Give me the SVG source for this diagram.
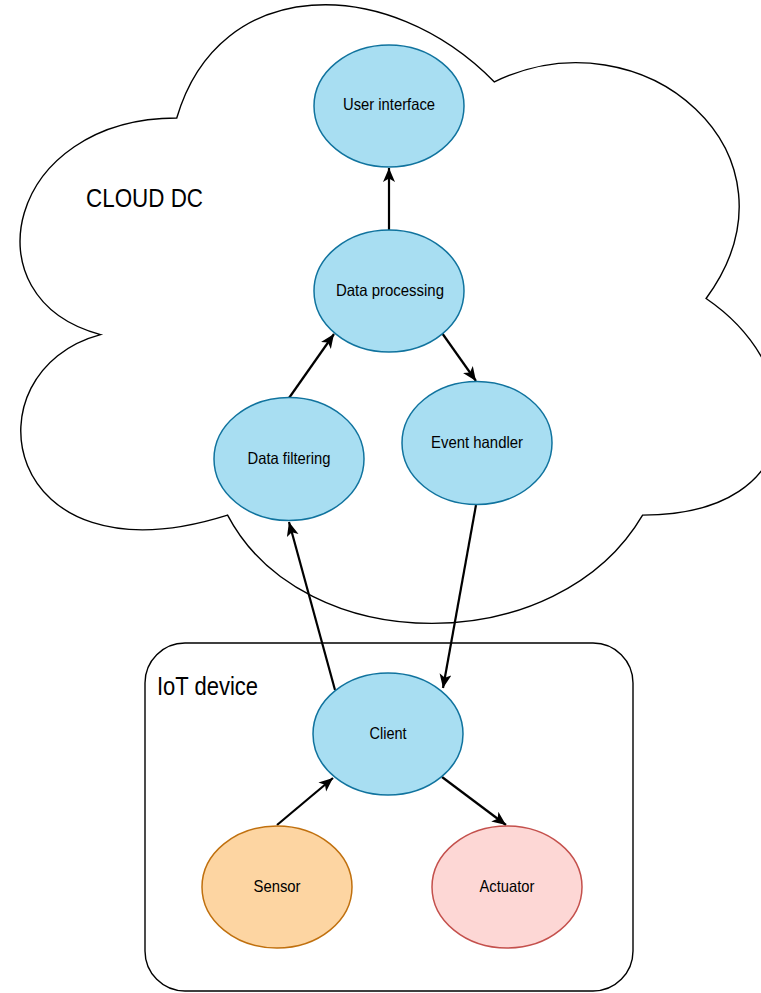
<svg xmlns="http://www.w3.org/2000/svg" width="761" height="993" viewBox="0 0 761 993">
<style>
.cloud{fill:#ffffff;stroke:#000000;stroke-width:1.4}
.box{fill:#ffffff;stroke:#000000;stroke-width:1.4}
.blue{fill:#a8def2;stroke:#10739e;stroke-width:1.5}
.orange{fill:#fdd5a2;stroke:#c0700e;stroke-width:1.5}
.red{fill:#fdd7d5;stroke:#c4504c;stroke-width:1.5}
.lbl{font-family:"Liberation Sans",Arial,Helvetica,sans-serif;font-size:16.5px;fill:#000000;text-anchor:middle;dominant-baseline:central}
.big{font-family:"Liberation Sans",Arial,Helvetica,sans-serif;font-size:26px;fill:#000000}
.edge{fill:none;stroke:#000000;stroke-width:2.2}
</style>
<defs>
<marker id="arr" markerUnits="userSpaceOnUse" markerWidth="16" markerHeight="14" refX="14" refY="6" orient="auto" viewBox="0 0 16 14">
<path d="M0,0 L14,6 L0,12 L3.5,6 Z" fill="#000000"/>
</marker>
</defs>
<g id="cloud-dc">
<path class="cloud" d="M176.75,118 C7.35,118 -35,298.5 100.52,334.6 C-35,370.7 -1.12,587.3 227.57,515.1 C303.8,659.5 557.9,659.5 642.6,515.1 C812,515.1 812,370.7 706.1,298.5 C812,154.1 642.6,9.7 494.4,81.9 C388.5,-26.4 219.1,-26.4 176.75,118 Z"/>
<text class="big" x="86" y="207" textLength="117" lengthAdjust="spacingAndGlyphs">CLOUD DC</text>
</g>
<g id="iot-device">
<rect class="box" x="145" y="643" width="488" height="348" rx="40" ry="40"/>
<text class="big" x="157" y="695" textLength="101" lengthAdjust="spacingAndGlyphs">IoT device</text>
</g>
<g id="connectors">
<line class="edge" x1="389" y1="230" x2="389" y2="168" marker-end="url(#arr)"/>
<line class="edge" x1="289" y1="398" x2="334" y2="334" marker-end="url(#arr)"/>
<line class="edge" x1="442" y1="333" x2="476" y2="381" marker-end="url(#arr)"/>
<line class="edge" x1="335" y1="690" x2="289" y2="522" marker-end="url(#arr)"/>
<line class="edge" x1="476" y1="505" x2="443" y2="688" marker-end="url(#arr)"/>
<line class="edge" x1="277" y1="825" x2="333" y2="778" marker-end="url(#arr)"/>
<line class="edge" x1="442" y1="777" x2="506" y2="825" marker-end="url(#arr)"/>
</g>
<g id="user-interface">
<ellipse class="blue" cx="389" cy="106" rx="75" ry="61"/>
<text class="lbl" x="389" y="104" textLength="92" lengthAdjust="spacingAndGlyphs">User interface</text>
</g>
<g id="data-processing">
<ellipse class="blue" cx="389" cy="291" rx="75" ry="61"/>
<text class="lbl" x="390" y="290" textLength="108" lengthAdjust="spacingAndGlyphs">Data processing</text>
</g>
<g id="data-filtering">
<ellipse class="blue" cx="289" cy="459" rx="75" ry="61.5"/>
<text class="lbl" x="289" y="458" textLength="83" lengthAdjust="spacingAndGlyphs">Data filtering</text>
</g>
<g id="event-handler">
<ellipse class="blue" cx="477" cy="443" rx="75" ry="61.5"/>
<text class="lbl" x="477" y="442" textLength="92" lengthAdjust="spacingAndGlyphs">Event handler</text>
</g>
<g id="client">
<ellipse class="blue" cx="388" cy="734" rx="75" ry="61"/>
<text class="lbl" x="388" y="733" textLength="37" lengthAdjust="spacingAndGlyphs">Client</text>
</g>
<g id="sensor">
<ellipse class="orange" cx="277" cy="887" rx="75" ry="61"/>
<text class="lbl" x="277" y="886" textLength="47" lengthAdjust="spacingAndGlyphs">Sensor</text>
</g>
<g id="actuator">
<ellipse class="red" cx="507" cy="887" rx="75" ry="61"/>
<text class="lbl" x="507" y="886" textLength="55" lengthAdjust="spacingAndGlyphs">Actuator</text>
</g>
</svg>
